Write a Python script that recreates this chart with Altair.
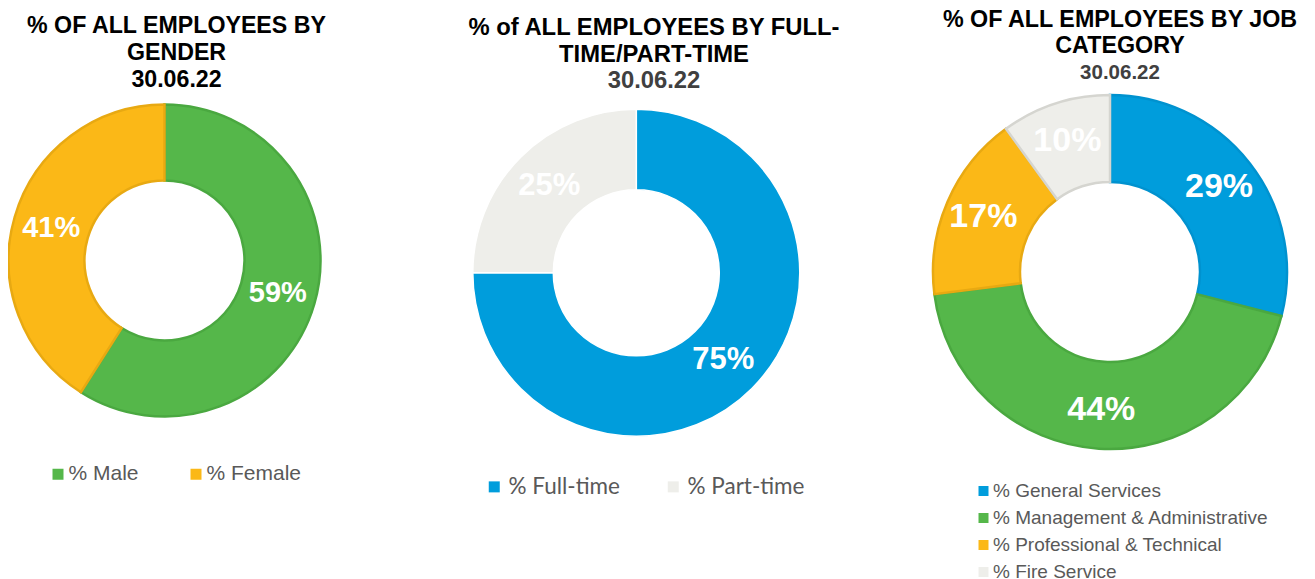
import altair as alt
import pandas as pd

# ---- data ----
gender_cats = ["% Male", "% Female"]
gender_vals = [59, 41]
ft_cats = ["% Full-time", "% Part-time"]
ft_vals = [75, 25]
job_cats = ["% General Services", "% Management & Administrative",
            "% Professional & Technical", "% Fire Service"]
job_vals = [29, 44, 17, 10]

title1 = ["% OF ALL EMPLOYEES BY", "GENDER", "30.06.22"]
title2 = ["% of ALL EMPLOYEES BY FULL-", "TIME/PART-TIME", "30.06.22"]
title3 = ["% OF ALL EMPLOYEES BY JOB", "CATEGORY", "30.06.22"]

# ---- styles ----
GREEN, GREEN_D = "#55B74A", "#4AA840"
ORANGE, ORANGE_D = "#FBB817", "#E8A912"
BLUE, BLUE_D = "#009DDC", "#0092CF"
GREY, GREY_D = "#EEEEEA", "#D5D5D0"
FONT = "Liberation Sans"


def donut(cats, vals, fills, strokes, stroke_w, cx, cy, r_in, r_out, r_lab,
          lab_size, legend):
    df = pd.DataFrame({"cat": cats, "val": vals, "idx": list(range(len(cats)))})
    df["lab"] = [f"{v}%" for v in vals]
    base = alt.Chart(df).encode(
        theta=alt.Theta("val:Q", stack=True),
        order=alt.Order("idx:Q", sort="ascending"),
        x=alt.value(cx),
        y=alt.value(cy),
    )
    arc = base.mark_arc(innerRadius=r_in, outerRadius=r_out,
                        strokeWidth=stroke_w).encode(
        color=alt.Color("cat:N", scale=alt.Scale(domain=cats, range=fills),
                        legend=legend),
        stroke=alt.Stroke("cat:N", scale=alt.Scale(domain=cats, range=strokes),
                          legend=None),
    )
    text = base.mark_text(radius=r_lab, font=FONT, fontWeight="bold",
                          fontSize=lab_size, color="white",
                          align="center", baseline="middle").encode(
        text=alt.Text("lab:N"))
    return alt.layer(arc, text)


def title_line(txt, x, y, size, color="#000000"):
    return alt.Chart(pd.DataFrame({"t": [txt]})).mark_text(
        font=FONT, fontWeight="bold", fontSize=size, color=color,
        align="center", baseline="alphabetic").encode(
        text=alt.Text("t:N"), x=alt.value(x), y=alt.value(y))


def legend(x, y, size, font, direction, colpad=0, rowpad=0, offset=0, sym=121):
    return alt.Legend(orient="none", legendX=x, legendY=y, direction=direction,
                      title=None, symbolType="square", symbolSize=sym,
                      symbolStrokeWidth=0, labelFont=font, labelFontSize=size,
                      labelColor="#595959", columnPadding=colpad,
                      rowPadding=rowpad, labelOffset=offset, padding=0,
                      labelLimit=400)


d1 = donut(gender_cats, gender_vals, [GREEN, ORANGE], [GREEN_D, ORANGE_D], 2.5,
           156.5, 252.5, 80, 156, 118, 29,
           legend(39.5, 455.5, 21, FONT, "horizontal", colpad=46, offset=0))
d2 = donut(ft_cats, ft_vals, [BLUE, GREY], ["#FFFFFF", "#FFFFFF"], 1.5,
           628.3, 264.8, 83, 163.5, 123, 31,
           legend(475, 467.5, 22.5, "Lato", "horizontal", colpad=42, offset=3))
d3 = donut(job_cats, job_vals, [BLUE, GREEN, ORANGE, GREY],
           [BLUE_D, GREEN_D, ORANGE_D, GREY_D], 2.5,
           1102, 264, 90, 177, 138, 34,
           legend(966, 473.5, 19, FONT, "vertical", rowpad=7, offset=0, sym=100))

titles = [
    title_line(title1[0], 168.5, 25.3, 23.2),
    title_line(title1[1], 168.5, 52, 23.2),
    title_line(title1[2], 168.5, 79.3, 23.2),
    title_line(title2[0], 646, 27, 23.8),
    title_line(title2[1], 646, 53.7, 23.8),
    title_line(title2[2], 646, 80.3, 23.8, "#404040"),
    title_line(title3[0], 1112, 19, 23.3),
    title_line(title3[1], 1112, 45.3, 23.3),
    title_line(title3[2], 1112, 71, 20.5, "#404040"),
]

chart = alt.layer(d1, d2, d3, *titles).resolve_scale(
    theta="independent", color="independent", stroke="independent"
).properties(
    width=1299, height=580, padding=0,
    autosize=alt.AutoSizeParams(type="none"),
    background="white",
).configure_view(stroke=None)

chart.save("out.html", embed_options={"renderer": "svg", "actions": False})
